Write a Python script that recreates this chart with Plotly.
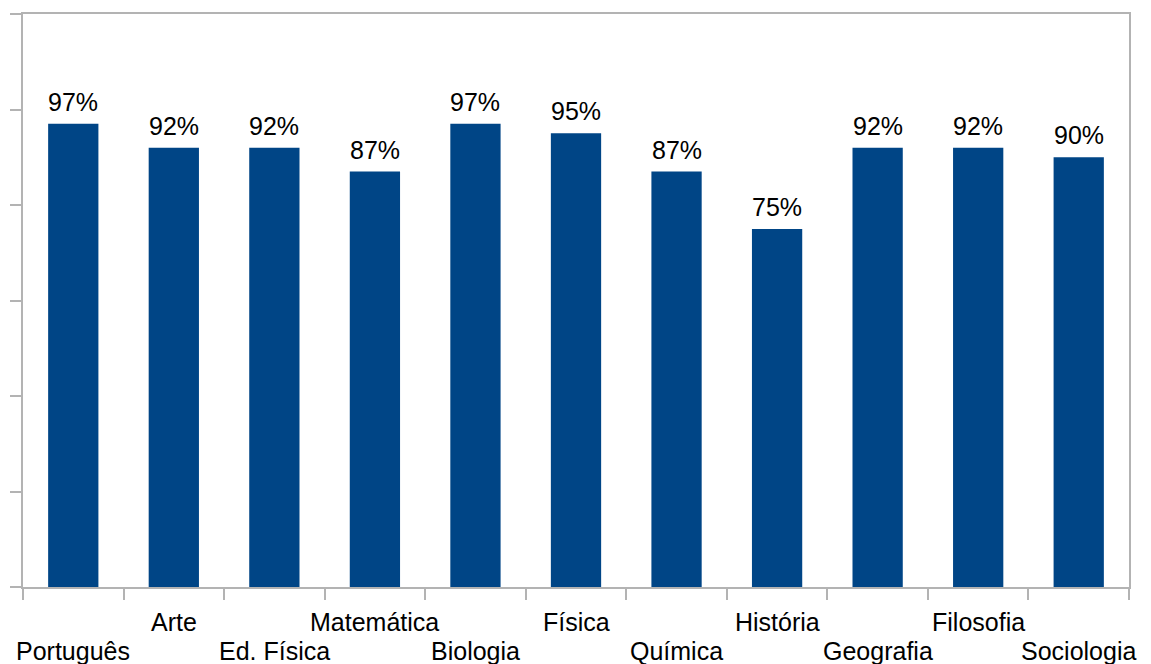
import plotly.graph_objects as go

# Subjects and their approval percentages
disciplinas = ["Português", "Arte", "Ed. Física", "Matemática", "Biologia", "Física",
               "Química", "História", "Geografia", "Filosofia", "Sociologia"]
percentuais = [97, 92, 92, 87, 97, 95, 87, 75, 92, 92, 90]

FONT = "Liberation Sans, Arial, sans-serif"
AXIS_GREY = "#b3b3b3"
LABEL_SIZE = 25

fig = go.Figure(
    go.Bar(
        x=disciplinas,
        y=percentuais,
        marker=dict(color="#004586", line=dict(width=0)),
        hoverinfo="x+y",
    )
)

annotations = []
# Value labels sitting above each bar
for nome, v in zip(disciplinas, percentuais):
    annotations.append(dict(
        x=nome, xref="x", y=v, yref="y",
        text=f"{v}%", showarrow=False,
        yanchor="bottom", xanchor="center", yshift=6,
        font=dict(family=FONT, size=LABEL_SIZE, color="#000000"),
    ))

# Category labels alternate between two rows so they do not collide
for i, nome in enumerate(disciplinas):
    lower = i % 2 == 0
    annotations.append(dict(
        x=nome, xref="x", y=0, yref="paper",
        text=nome, showarrow=False,
        yanchor="top", xanchor="center",
        yshift=-48 if lower else -19,
        font=dict(family=FONT, size=LABEL_SIZE, color="#000000"),
    ))

fig.update_layout(
    width=1151, height=664,
    margin=dict(l=18, r=22, t=13, b=77),
    paper_bgcolor="white", plot_bgcolor="white",
    bargap=0.5,
    showlegend=False,
    annotations=annotations,
    font=dict(family=FONT, size=LABEL_SIZE, color="#000000"),
)
fig.update_xaxes(
    type="category",
    range=[-0.5, len(disciplinas) - 0.5],
    showticklabels=False,
    ticks="outside", tickson="boundaries", ticklen=11, tickwidth=2, tickcolor=AXIS_GREY,
    showline=True, linecolor=AXIS_GREY, linewidth=2, mirror=True,
    showgrid=False, zeroline=False,
)
fig.update_yaxes(
    range=[0, 120], dtick=20, tick0=0,
    showticklabels=False,
    ticks="outside", ticklen=11, tickwidth=2, tickcolor=AXIS_GREY,
    showline=True, linecolor=AXIS_GREY, linewidth=2, mirror=True,
    showgrid=False, zeroline=False,
)

fig.write_html("out.html")
